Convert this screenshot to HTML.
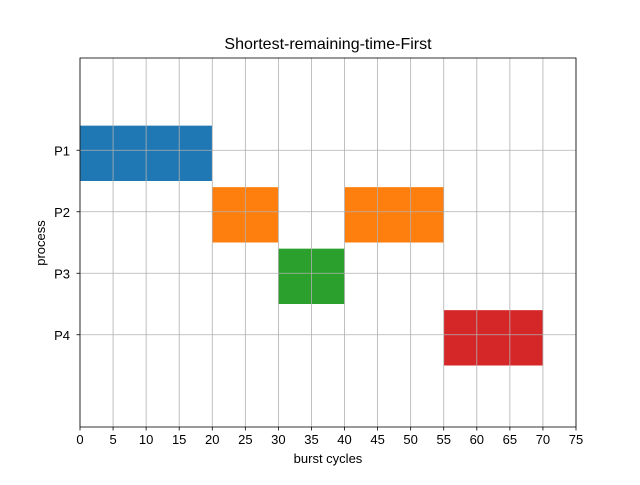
<!DOCTYPE html>
<html><head><meta charset="utf-8"><style>body{margin:0;background:#fff}</style></head>
<body>
<svg id="chart" width="640" height="480" xmlns="http://www.w3.org/2000/svg" font-family="Liberation Sans, DejaVu Sans, sans-serif"></svg>
<script>
const processes = ["P1","P2","P3","P4"];
const processY = [45,35,25,15];
const segStart = [0,20,40,30,55];
const segLen = [20,10,15,10,15];
const segProc = [0,1,1,2,3];
const colors = ["#1f77b4","#ff7f0e","#2ca02c","#d62728"];
const xTicks = [0,5,10,15,20,25,30,35,40,45,50,55,60,65,70,75];
const barHeight = 9;
const barOffset = 5;
const L=80,R=576,T=58,B=427, xMax=75, yMax=60;
const sx=v=>L+v/xMax*(R-L), sy=v=>B-v/yMax*(B-T);
const svg=document.getElementById('chart');
const NS="http://www.w3.org/2000/svg";
function mk(t,a,txt){const e=document.createElementNS(NS,t);for(const k in a)e.setAttribute(k,a[k]);if(txt!==undefined)e.textContent=txt;svg.appendChild(e);return e;}
segStart.forEach((s,i)=>{const p=segProc[i];
 const y0=processY[p]-barOffset, y1=y0+barHeight;
 const r=mk('rect',{x:sx(s),y:sy(y1),width:sx(s+segLen[i])-sx(s),height:sy(y0)-sy(y1),fill:colors[p]});
 
 });
xTicks.forEach(v=>{const x=sx(v);
 const g=mk('line',{x1:x,x2:x,y1:T,y2:B,stroke:'#b0b0b0','stroke-width':0.8});
 
 mk('line',{x1:x,x2:x,y1:B,y2:B+3.5,stroke:'#000','stroke-width':0.8});
 const t=mk('text',{x:x,y:B+17,'text-anchor':'middle','font-size':13},v);
 });
processes.forEach((p,i)=>{const y=sy(processY[i]);
 const g=mk('line',{x1:L,x2:R,y1:y,y2:y,stroke:'#b0b0b0','stroke-width':0.8});
 
 mk('line',{x1:L-3.5,x2:L,y1:y,y2:y,stroke:'#000','stroke-width':0.8});
 const t=mk('text',{x:L-10,y:y+5,'text-anchor':'end','font-size':13},p);
 });
</script>
<svg style="position:absolute;left:0;top:0" width="640" height="480" font-family="Liberation Sans, DejaVu Sans, sans-serif">
<rect x="80" y="58" width="496" height="369" fill="none" stroke="#000" stroke-width="0.8"/>
<text x="328" y="49" text-anchor="middle" font-size="16">Shortest-remaining-time-First</text>
<text x="328" y="463" text-anchor="middle" font-size="13">burst cycles</text>
<text x="45" y="243" text-anchor="middle" font-size="13" transform="rotate(-90 45 243)">process</text>
</svg>
</body></html>
